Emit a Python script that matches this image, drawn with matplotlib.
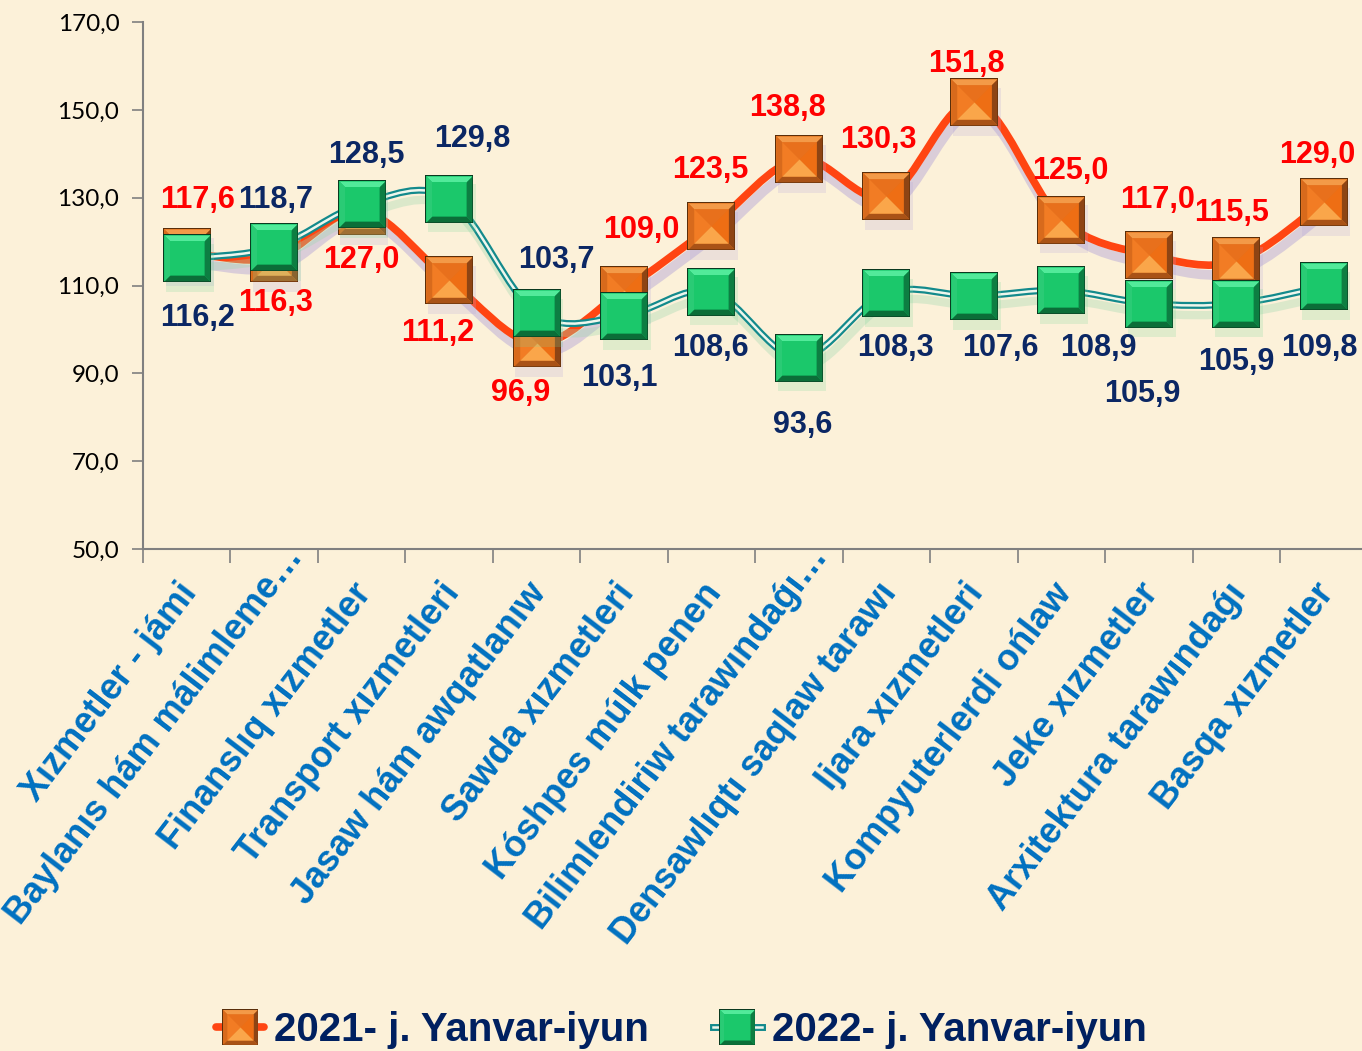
import matplotlib
matplotlib.use('Agg')
import matplotlib.pyplot as plt
import numpy as np
from matplotlib.path import Path
from matplotlib.patches import PathPatch
from matplotlib.lines import Line2D
from matplotlib.legend_handler import HandlerTuple
import matplotlib.transforms as mtransforms

categories = [
    'Xızmetler - jámi',
    'Baylanıs hám málimleme…',
    'Finanslıq xızmetler',
    'Transport xızmetleri',
    'Jasaw hám awqatlanıw',
    'Sawda xızmetleri',
    'Kóshpes múlk penen',
    'Bilimlendiriw tarawındaǵı…',
    'Densawlıqtı saqlaw tarawı',
    'Ijara xızmetleri',
    'Kompyuterlerdi ońlaw',
    'Jeke xızmetler',
    'Arxitektura tarawındaǵı',
    'Basqa xızmetler',
]
vals_2021 = [117.6, 116.3, 127.0, 111.2, 96.9, 109.0, 123.5, 138.8, 130.3, 151.8, 125.0, 117.0, 115.5, 129.0]
vals_2022 = [116.2, 118.7, 128.5, 129.8, 103.7, 103.1, 108.6, 93.6, 108.3, 107.6, 108.9, 105.9, 105.9, 109.8]
series_names = ['2021- j. Yanvar-iyun', '2022- j. Yanvar-iyun']
yticks = [50, 70, 90, 110, 130, 150, 170]

# label offsets in pixels (dx, dy) relative to the point
off_2021 = [(11, 52), (1, -45), (0, -49), (-11, -53), (-16, -50), (17, 60), (-1, 56),
            (-11, 51), (-8, 56), (-7, 38), (9, 49), (9, 55), (-5, 48), (-6, 47)]
off_2022 = [(11, -60), (1, 47), (5, 49), (23, 60), (20, 53), (-5, -62), (-1, -56),
            (4, -67), (9, -55), (26, -52), (37, -58), (-6, -90), (0, -58), (-4, -62)]
# category label anchor (baseline end) in pixels from tick / axis
cat_off = [(30, -8) if c.endswith('…') else (11, -44) for c in categories]

BG = '#FCF1D9'
plt.rcParams['font.family'] = ['Liberation Sans', 'DejaVu Sans']

fig = plt.figure(figsize=(13.62, 10.51), dpi=100, facecolor=BG)
ax = fig.add_axes([0.105, 0.4776, 0.899, 0.5014])
ax.set_facecolor('none')

x = np.arange(len(categories))
shadow = ax.transData + mtransforms.ScaledTranslation(2 / 72, -7 / 72, fig.dpi_scale_trans)


def smooth_path(xs, ys):
    pts = np.column_stack([xs, ys]).astype(float)
    n = len(pts)
    verts = [pts[0]]
    codes = [Path.MOVETO]
    for i in range(n - 1):
        p0 = pts[i - 1] if i > 0 else pts[i]
        p1, p2 = pts[i], pts[i + 1]
        p3 = pts[i + 2] if i + 2 < n else pts[i + 1]
        verts += [p1 + (p2 - p0) / 6, p2 - (p3 - p1) / 6, p2]
        codes += [Path.CURVE4] * 3
    return Path(verts, codes)


trap_top = [(-1, 1), (1, 1), (0.75, 0.75), (-0.75, 0.75)]
trap_bot = [(-1, -1), (1, -1), (0.75, -0.75), (-0.75, -0.75)]
trap_left = [(-1, -1), (-1, 1), (-0.75, 0.75), (-0.75, -0.75)]
trap_right = [(1, -1), (1, 1), (0.75, 0.75), (0.75, -0.75)]
tri_top = [(-1, 1), (1, 1), (0, 0)]
tri_bot = [(-1, -1), (1, -1), (0, 0)]
tri_left = [(-1, -1), (-1, 1), (0, 0)]
tri_right = [(1, -1), (1, 1), (0, 0)]

MS = 35


def draw_markers(xs, ys, kind, z):
    arts = []
    kw = dict(ls='none', mec='none', mew=0, zorder=z)
    if kind == 'orange':
        ax.plot(xs, ys, marker='s', ms=MS, mfc='#B4A6DC', alpha=0.22, transform=shadow, **kw)
        layers = [('s', MS, '#5A2E0A'), ('s', MS - 2, '#E2741E'),
                  (trap_top, MS - 2, '#F39A48'), (trap_left, MS - 2, '#D86A1C'),
                  (trap_right, MS - 2, '#8E4414'), (trap_bot, MS - 2, '#A95216'),
                  (tri_top, (MS - 2) * 0.75, '#E8701C'), (tri_left, (MS - 2) * 0.75, '#F27C24'),
                  (tri_right, (MS - 2) * 0.75, '#EE6E14'), (tri_bot, (MS - 2) * 0.75, '#FAA64A')]
    else:
        ax.plot(xs, ys, marker='s', ms=MS, mfc='#7ED89C', alpha=0.22, transform=shadow, **kw)
        layers = [('s', MS, '#0A3A20'), ('s', MS - 2, '#14C266'),
                  (trap_top, MS - 2, '#52EA9A'), (trap_left, MS - 2, '#2ACB75'),
                  (trap_right, MS - 2, '#0D7E42'), (trap_bot, MS - 2, '#0B6E38'),
                  ('s', (MS - 2) * 0.75, '#1BC86B')]
    for m, s, c in layers:
        ln, = ax.plot(xs, ys, marker=m, ms=s, mfc=c, **kw)
        arts.append(ln)
    return arts


# 2021 line
p21 = smooth_path(x, vals_2021)
ax.add_patch(PathPatch(p21, fill=False, ec='#A898D8', lw=7, alpha=0.4, transform=shadow, zorder=2))
ax.add_patch(PathPatch(p21, fill=False, ec='#FF4512', lw=5.5, capstyle='round', zorder=3))
m21 = draw_markers(x, vals_2021, 'orange', 4)

# 2022 line
p22 = smooth_path(x, vals_2022)
ax.add_patch(PathPatch(p22, fill=False, ec='#9FD8B0', lw=6, alpha=0.35, transform=shadow, zorder=5))
ax.add_patch(PathPatch(p22, fill=False, ec='#138A8C', lw=5, zorder=6))
ax.add_patch(PathPatch(p22, fill=False, ec='#EEF6EC', lw=1.8, zorder=6.5))
m22 = draw_markers(x, vals_2022, 'green', 7)

for i, v in enumerate(vals_2021):
    ax.annotate(f'{v:.1f}'.replace('.', ','), (x[i], v), xytext=off_2021[i],
                textcoords='offset pixels', ha='center', va='center',
                fontsize=22, fontweight='bold', color='#FF0000', zorder=10)
for i, v in enumerate(vals_2022):
    ax.annotate(f'{v:.1f}'.replace('.', ','), (x[i], v), xytext=off_2022[i],
                textcoords='offset pixels', ha='center', va='center',
                fontsize=22, fontweight='bold', color='#0B2764', zorder=10)

ax.set_xlim(-0.5, len(categories) - 0.5)
ax.set_ylim(50, 170)
ax.set_yticks(yticks)
ax.set_yticklabels([f'{t:.1f}'.replace('.', ',') for t in yticks], fontsize=17.5,
                   family='Lato', color='black')
ax.tick_params(axis='y', direction='out', length=8, width=1.2, color='#808080', pad=9)

# category labels
ax.set_xticks(x)
ax.set_xticklabels([])
ax.tick_params(axis='x', which='major', length=0)
ax.set_xticks(np.arange(-0.5, len(categories)), minor=True)
ax.tick_params(axis='x', which='minor', direction='out', length=10, width=1.2, color='#808080')
base = ax.get_xaxis_transform()
for i, lab in enumerate(categories):
    dx, dy = cat_off[i]
    tr = base + mtransforms.ScaledTranslation(dx / 100, dy / 100, fig.dpi_scale_trans)
    ax.text(x[i], 0, lab, transform=tr, rotation=52.5, rotation_mode='anchor',
            ha='right', va='baseline', fontsize=26, fontweight='bold', color='#0070C0',
            clip_on=False)

for s in ['top', 'right']:
    ax.spines[s].set_visible(False)
for s in ['left', 'bottom']:
    ax.spines[s].set_color('#808080')
    ax.spines[s].set_linewidth(1.5)

h21 = tuple([Line2D([], [], color='#FF4512', lw=5.5, solid_capstyle='round')] + m21)
h22 = tuple([Line2D([], [], color='#138A8C', lw=5), Line2D([], [], color='#EEF6EC', lw=1.8)] + m22)
leg = fig.legend([h21, h22], series_names, loc='center', bbox_to_anchor=(0.5, 0.02),
                 ncol=2, frameon=False, handler_map={tuple: HandlerTuple(ndivide=1, pad=0)},
                 handlelength=1.2, handletextpad=0.25, columnspacing=1.6, markerscale=0.76,
                 prop={'size': 29, 'weight': 'bold'})
for t in leg.get_texts():
    t.set_color('#002060')

fig.savefig('out.png', dpi=100, facecolor=BG)
